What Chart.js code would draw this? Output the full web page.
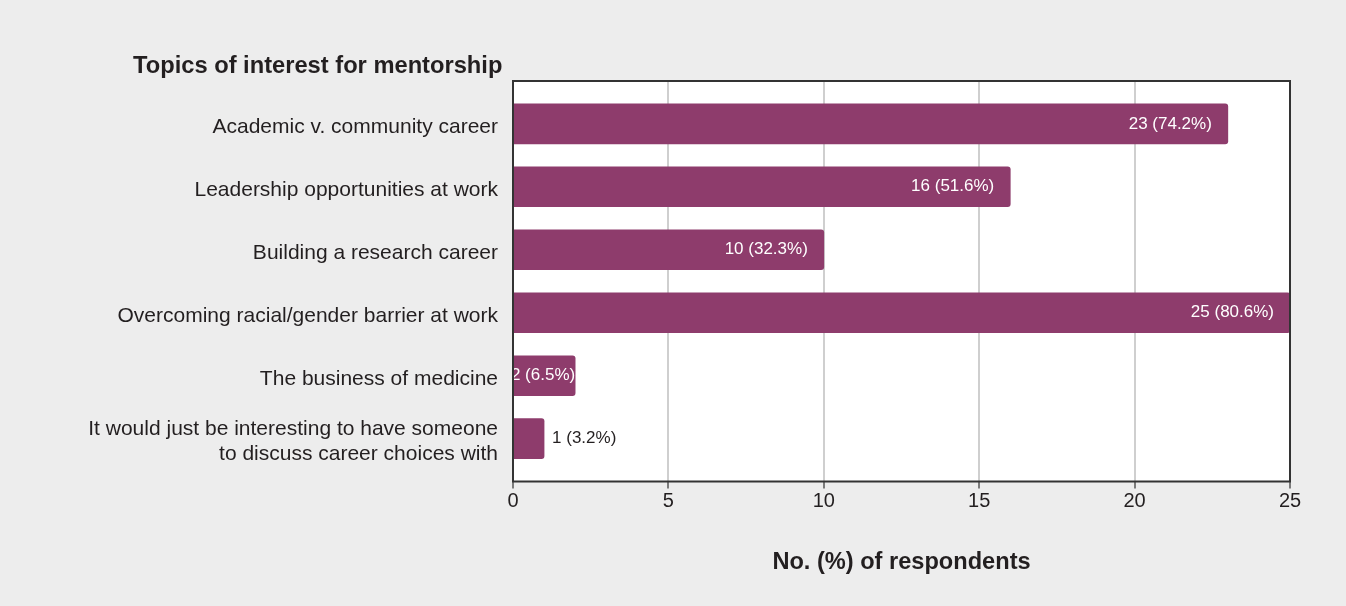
<!DOCTYPE html>
<html>
<head>
<meta charset="utf-8">
<title>Topics of interest for mentorship</title>
<script src="https://cdn.jsdelivr.net/npm/chart.js@4.4.1/dist/chart.umd.min.js"></script>
<style>
   html, body { margin: 0; padding: 0; background: #ededed; }
   #chart-wrap { width: 1346px; height: 606px; position: relative; }
</style>
</head>
<body>
<div id="chart-wrap"><canvas id="mentorChart"></canvas></div>
<script>
/*** REGION 1 - Global variables */
var gTopics = [
   "Academic v. community career",
   "Leadership opportunities at work",
   "Building a research career",
   "Overcoming racial/gender barrier at work",
   "The business of medicine",
   ["It would just be interesting to have someone", "to discuss career choices with"],
];
var gCounts = [23, 16, 10, 25, 2, 1];
var gPercents = ["74.2", "51.6", "32.3", "80.6", "6.5", "3.2"];
var gXTicks = [0, 5, 10, 15, 20, 25];

var gBarColor = "#8e3c6c";
var gTextColor = "#231f20";
var gFontFamily = "'Liberation Sans', Arial, Helvetica, sans-serif";

// chart area box (khung trắng)
var gArea = { left: 513, right: 1290, top: 81, bottom: 481.5 };

//Vẽ nền xám + khung trắng
var bgPlugin = {
   id: "bgPlugin",
   beforeDraw: function (chart) {
      var ctx = chart.ctx;
      var a = chart.chartArea;
      ctx.save();
      ctx.fillStyle = "#ededed";
      ctx.fillRect(0, 0, chart.width, chart.height);
      ctx.fillStyle = "#ffffff";
      ctx.fillRect(a.left, a.top, a.right - a.left, a.bottom - a.top);
      ctx.restore();
   },
   afterDraw: function (chart) {
      var ctx = chart.ctx;
      var a = chart.chartArea;
      ctx.save();
      ctx.strokeStyle = "#333333";
      ctx.lineWidth = 2;
      ctx.strokeRect(a.left, a.top, a.right - a.left, a.bottom - a.top);
      //tiêu đề
      ctx.fillStyle = gTextColor;
      ctx.font = "bold 23.7px " + gFontFamily;
      ctx.textAlign = "left";
      ctx.textBaseline = "alphabetic";
      ctx.fillText("Topics of interest for mentorship", 133, 73);
      ctx.restore();
   },
};

//Nhãn số liệu trên thanh
var labelPlugin = {
   id: "labelPlugin",
   afterDatasetsDraw: function (chart) {
      var ctx = chart.ctx;
      var meta = chart.getDatasetMeta(0);
      ctx.save();
      ctx.font = "17px " + gFontFamily;
      ctx.textBaseline = "middle";
      meta.data.forEach(function (bar, i) {
         var text = gCounts[i] + " (" + gPercents[i] + "%)";
         var tw = ctx.measureText(text).width;
         var barWidth = bar.x - bar.base;
         if (tw <= barWidth + 6) {
            ctx.fillStyle = "#ffffff";
            ctx.textAlign = "right";
            ctx.fillText(text, Math.max(bar.x - 16, Math.min(bar.base + tw + 1, bar.x)), bar.y);
         } else {
            ctx.fillStyle = gTextColor;
            ctx.textAlign = "left";
            ctx.fillText(text, bar.x + 8, bar.y);
         }
      });
      ctx.restore();
   },
};

/*** REGION 2 - Build chart */
var vPoints = gCounts.map(function (v, i) {
   return { x: v, y: i };
});

new Chart(document.getElementById("mentorChart"), {
   type: "bar",
   data: {
      datasets: [
         {
            data: vPoints,
            backgroundColor: gBarColor,
            borderWidth: 0,
            borderRadius: 3,
            borderSkipped: "start",
            barThickness: 40,
         },
      ],
   },
   plugins: [bgPlugin, labelPlugin],
   options: {
      indexAxis: "y",
      responsive: true,
      maintainAspectRatio: false,
      animation: false,
      layout: { padding: { left: 0, right: 1346 - gArea.right, top: gArea.top, bottom: 0 } },
      plugins: {
         legend: { display: false },
         tooltip: { enabled: false },
      },
      scales: {
         x: {
            type: "linear",
            min: gXTicks[0],
            max: gXTicks[gXTicks.length - 1],
            afterBuildTicks: function (scale) {
               scale.ticks = gXTicks.map(function (v) {
                  return { value: v };
               });
            },
            afterFit: function (scale) {
               scale.height = 606 - gArea.bottom;
            },
            grid: {
               color: "#cfcfcf",
               lineWidth: 2,
               drawTicks: true,
               tickLength: 7,
               tickColor: "#555555",
               tickWidth: 1.5,
            },
            border: { display: false },
            ticks: {
               color: gTextColor,
               font: { family: gFontFamily, size: 20 },
               padding: 1,
            },
            title: {
               display: true,
               text: "No. (%) of respondents",
               color: gTextColor,
               font: { family: gFontFamily, size: 23.6, weight: "bold" },
               padding: { top: 0, bottom: 29 },
            },
         },
         y: {
            type: "linear",
            reverse: true,
            offset: false,
            min: -0.68,
            max: 5.68,
            afterBuildTicks: function (scale) {
               scale.ticks = gTopics.map(function (t, i) {
                  return { value: i };
               });
            },
            afterFit: function (scale) {
               scale.width = gArea.left;
            },
            grid: { display: false, drawTicks: false, offset: false },
            border: { display: false },
            ticks: {
               autoSkip: false,
               color: gTextColor,
               font: { family: gFontFamily, size: 21, lineHeight: 1.15 },
               padding: 15,
               labelOffset: 3,
               callback: function (value) {
                  return gTopics[value];
               },
            },
         },
      },
   },
});
</script>
</body>
</html>
